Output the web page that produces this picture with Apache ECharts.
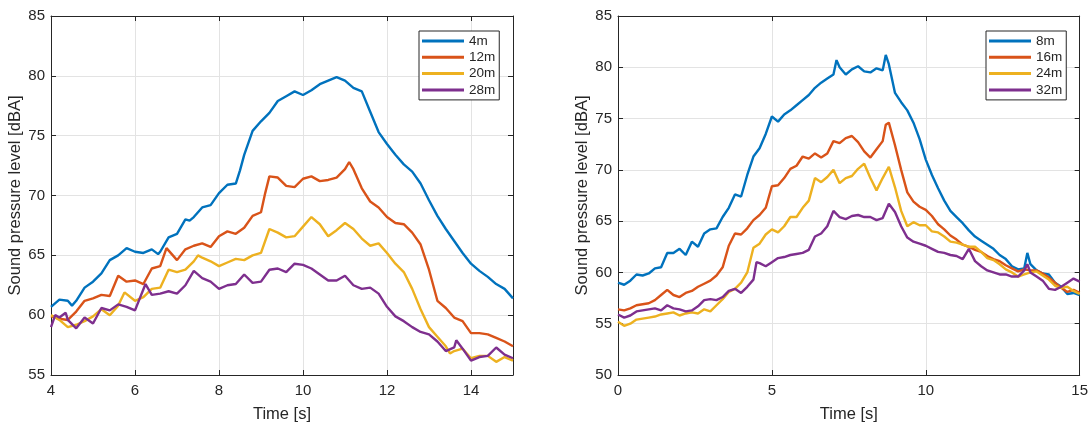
<!DOCTYPE html>
<html>
<head>
<meta charset="utf-8">
<script src="https://cdn.jsdelivr.net/npm/echarts@6/dist/echarts.min.js"></script>
<style>
  html, body { margin: 0; padding: 0; background: #ffffff; }
  #chart { width: 1091px; height: 428px; }
</style>
</head>
<body>
<div id="chart"></div>
<script>
// Sound pressure level over time, measured at different distances.
// Each series is a list of [time (s), level (dBA)] pairs.

// Left panel: 4 m, 12 m, 20 m, 28 m
const legendLeft = ['4m', '12m', '20m', '28m'];
const spl4m = [
  [4.0,60.7],[4.2,61.3],[4.4,61.2],[4.5,60.8],[4.6,61.2],[4.8,62.3],[5.0,62.8],[5.2,63.5],[5.4,64.6],[5.6,65.0],
  [5.8,65.6],[6.0,65.3],[6.2,65.2],[6.4,65.5],[6.55,65.1],[6.6,65.3],[6.8,66.5],[7.0,66.8],[7.2,68.0],[7.3,67.9],
  [7.4,68.2],[7.6,69.0],[7.8,69.2],[8.0,70.2],[8.2,70.9],[8.4,71.0],[8.5,72.1],[8.6,73.4],[8.8,75.4],[9.0,76.2],
  [9.2,76.9],[9.4,77.9],[9.6,78.3],[9.8,78.7],[10.0,78.4],[10.2,78.8],[10.4,79.3],[10.6,79.6],[10.8,79.9],[11.0,79.6],
  [11.2,79.0],[11.4,78.7],[11.6,77.0],[11.8,75.3],[12.0,74.3],[12.2,73.4],[12.4,72.6],[12.6,72.0],[12.8,71.0],[13.0,69.6],
  [13.2,68.3],[13.4,67.2],[13.6,66.2],[13.8,65.2],[14.0,64.3],[14.2,63.7],[14.4,63.2],[14.6,62.6],[14.8,62.2],[15.0,61.4]
];
const spl12m = [
  [4.0,59.9],[4.2,59.7],[4.4,59.6],[4.6,60.3],[4.8,61.2],[5.0,61.4],[5.2,61.7],[5.4,61.6],[5.6,63.3],[5.8,62.8],
  [6.0,62.9],[6.2,62.6],[6.4,63.9],[6.6,64.1],[6.75,65.6],[7.0,64.6],[7.2,65.5],[7.4,65.8],[7.6,66.0],[7.8,65.7],
  [8.0,66.6],[8.2,67.0],[8.4,66.8],[8.6,67.3],[8.8,68.3],[9.0,68.6],[9.1,70.2],[9.2,71.6],[9.4,71.5],[9.6,70.8],
  [9.8,70.7],[10.0,71.4],[10.2,71.6],[10.4,71.2],[10.6,71.3],[10.8,71.5],[11.0,72.2],[11.1,72.8],[11.2,72.2],[11.4,70.6],
  [11.6,69.5],[11.8,69.0],[12.0,68.2],[12.2,67.7],[12.4,67.6],[12.6,66.9],[12.8,65.9],[13.0,63.8],[13.2,61.2],[13.4,60.6],
  [13.6,59.8],[13.8,59.5],[14.0,58.5],[14.2,58.5],[14.4,58.4],[14.6,58.1],[14.8,57.8],[15.0,57.4]
];
const spl20m = [
  [4.0,60.0],[4.2,59.6],[4.4,59.0],[4.6,59.2],[4.8,59.5],[5.0,59.9],[5.2,60.5],[5.4,60.0],[5.6,60.8],[5.75,61.9],
  [6.0,61.2],[6.2,61.5],[6.4,62.2],[6.6,62.3],[6.8,63.8],[7.0,63.6],[7.2,63.8],[7.4,64.5],[7.5,65.0],[7.6,64.8],
  [7.8,64.5],[8.0,64.1],[8.2,64.4],[8.4,64.7],[8.6,64.6],[8.8,65.0],[9.0,65.2],[9.2,67.2],[9.4,66.9],[9.6,66.5],
  [9.8,66.6],[10.0,67.4],[10.2,68.2],[10.4,67.6],[10.6,66.6],[10.8,67.1],[11.0,67.7],[11.2,67.2],[11.4,66.4],[11.6,65.8],
  [11.8,66.0],[12.0,65.2],[12.2,64.3],[12.4,63.6],[12.6,62.2],[12.8,60.5],[13.0,59.0],[13.2,58.2],[13.4,57.4],[13.5,56.8],
  [13.6,57.0],[13.8,57.2],[14.0,56.4],[14.2,56.6],[14.4,56.6],[14.6,56.1],[14.8,56.5],[15.0,56.2]
];
const spl28m = [
  [4.0,59.0],[4.1,60.0],[4.2,59.8],[4.35,60.2],[4.4,59.6],[4.6,58.9],[4.8,59.8],[5.0,59.3],[5.2,60.6],[5.4,60.4],
  [5.6,60.9],[5.8,60.7],[6.0,60.4],[6.25,62.6],[6.4,61.7],[6.6,61.8],[6.8,62.0],[7.0,61.8],[7.2,62.5],[7.4,63.7],
  [7.6,63.1],[7.8,62.8],[8.0,62.2],[8.2,62.5],[8.4,62.6],[8.6,63.4],[8.8,62.7],[9.0,62.8],[9.2,63.8],[9.4,63.9],
  [9.6,63.6],[9.8,64.3],[10.0,64.2],[10.2,63.9],[10.4,63.4],[10.6,62.9],[10.8,62.9],[11.0,63.3],[11.2,62.5],[11.4,62.2],
  [11.6,62.3],[11.8,61.8],[12.0,60.7],[12.2,59.9],[12.4,59.5],[12.6,59.0],[12.8,58.6],[13.0,58.4],[13.2,57.8],[13.4,57.0],
  [13.6,57.3],[13.65,57.9],[13.8,57.2],[14.0,56.2],[14.2,56.5],[14.4,56.6],[14.6,57.3],[14.8,56.7],[15.0,56.4]
];

// Right panel: 8 m, 16 m, 24 m, 32 m
const legendRight = ['8m', '16m', '24m', '32m'];
const spl8m = [
  [0.0,59.0],[0.2,58.8],[0.4,59.2],[0.6,59.8],[0.8,59.7],[1.0,59.9],[1.2,60.4],[1.4,60.5],[1.6,61.9],[1.8,61.9],
  [2.0,62.3],[2.2,61.7],[2.4,63.0],[2.6,62.5],[2.8,63.8],[3.0,64.2],[3.2,64.3],[3.4,65.4],[3.6,66.3],[3.8,67.6],
  [4.0,67.4],[4.2,69.5],[4.4,71.3],[4.6,72.1],[4.8,73.5],[5.0,75.2],[5.2,74.7],[5.4,75.4],[5.6,75.8],[5.8,76.3],
  [6.0,76.8],[6.2,77.3],[6.4,78.0],[6.6,78.5],[6.8,78.9],[7.0,79.3],[7.1,80.7],[7.2,80.0],[7.4,79.3],[7.6,79.8],
  [7.8,80.1],[8.0,79.6],[8.2,79.5],[8.4,79.9],[8.6,79.7],[8.7,81.2],[8.8,80.3],[9.0,77.5],[9.2,76.6],[9.4,75.8],
  [9.6,74.6],[9.8,73.0],[10.0,71.0],[10.2,69.5],[10.4,68.2],[10.6,67.0],[10.8,66.0],[11.0,65.4],[11.2,64.8],[11.4,64.1],
  [11.6,63.5],[11.8,63.1],[12.0,62.7],[12.2,62.3],[12.4,61.7],[12.6,61.3],[12.8,60.6],[13.0,60.3],[13.2,60.4],[13.3,61.9],
  [13.4,60.8],[13.6,60.2],[13.8,59.9],[14.0,59.8],[14.2,59.0],[14.4,58.6],[14.6,57.9],[14.8,58.0],[15.0,57.8]
];
const spl16m = [
  [0.0,56.4],[0.2,56.3],[0.4,56.5],[0.6,56.8],[0.8,56.9],[1.0,57.0],[1.2,57.3],[1.4,57.8],[1.6,58.3],[1.8,57.8],
  [2.0,57.6],[2.2,58.0],[2.4,58.2],[2.6,58.6],[2.8,58.9],[3.0,59.2],[3.2,59.7],[3.4,60.5],[3.6,62.6],[3.8,63.8],
  [4.0,63.7],[4.2,64.3],[4.4,65.1],[4.6,65.6],[4.8,66.3],[5.0,68.4],[5.2,68.5],[5.4,69.2],[5.6,70.1],[5.8,70.4],
  [6.0,71.3],[6.2,71.1],[6.4,71.6],[6.6,71.2],[6.8,71.6],[7.0,72.8],[7.2,72.6],[7.4,73.1],[7.6,73.3],[7.8,72.7],
  [8.0,71.8],[8.2,71.2],[8.4,72.0],[8.6,72.8],[8.7,74.4],[8.8,74.6],[9.0,72.4],[9.2,70.0],[9.4,67.8],[9.6,66.9],
  [9.8,66.4],[10.0,66.1],[10.2,65.5],[10.4,64.7],[10.6,64.2],[10.8,63.6],[11.0,63.2],[11.2,62.7],[11.4,62.5],[11.6,62.2],
  [11.8,62.0],[12.0,61.6],[12.2,61.3],[12.4,61.1],[12.6,60.7],[12.8,60.4],[13.0,60.1],[13.2,60.3],[13.4,60.2],[13.6,60.2],
  [13.8,59.9],[14.0,59.5],[14.2,59.0],[14.4,58.5],[14.6,58.1],[14.8,58.3],[15.0,58.0]
];
const spl24m = [
  [0.0,55.2],[0.2,54.8],[0.4,55.0],[0.6,55.4],[0.8,55.5],[1.0,55.6],[1.2,55.7],[1.4,55.9],[1.6,56.0],[1.8,56.1],
  [2.0,55.8],[2.2,56.0],[2.4,56.1],[2.6,56.0],[2.8,56.4],[3.0,56.2],[3.2,56.8],[3.4,57.4],[3.6,58.1],[3.8,58.4],
  [4.0,59.0],[4.2,60.0],[4.4,62.4],[4.6,62.8],[4.8,63.7],[5.0,64.2],[5.2,63.9],[5.4,64.5],[5.6,65.4],[5.8,65.4],
  [6.0,66.3],[6.2,67.0],[6.4,69.2],[6.6,68.8],[6.8,69.3],[7.0,70.0],[7.2,68.7],[7.4,69.2],[7.6,69.4],[7.8,70.1],
  [8.0,70.6],[8.2,69.2],[8.4,68.0],[8.6,69.2],[8.8,70.3],[9.0,68.3],[9.2,66.0],[9.4,64.5],[9.6,64.9],[9.8,64.6],
  [10.0,64.6],[10.2,64.0],[10.4,63.9],[10.6,63.5],[10.8,63.0],[11.0,62.9],[11.2,62.7],[11.4,62.5],[11.6,62.5],[11.8,62.0],
  [12.0,61.4],[12.2,61.2],[12.4,60.8],[12.6,60.3],[12.8,60.0],[13.0,59.6],[13.2,59.8],[13.4,60.0],[13.6,60.1],[13.8,59.7],
  [14.0,59.3],[14.2,58.7],[14.4,58.5],[14.6,58.6],[14.8,58.2],[15.0,57.9]
];
const spl32m = [
  [0.0,55.9],[0.2,55.6],[0.4,55.8],[0.6,56.2],[0.8,56.3],[1.0,56.4],[1.2,56.5],[1.4,56.3],[1.6,56.8],[1.8,56.5],
  [2.0,56.4],[2.2,56.2],[2.4,56.3],[2.6,56.7],[2.8,57.3],[3.0,57.4],[3.2,57.3],[3.4,57.6],[3.6,58.2],[3.8,58.4],
  [4.0,58.0],[4.2,58.6],[4.4,59.3],[4.5,61.0],[4.6,60.9],[4.8,60.6],[5.0,61.0],[5.2,61.4],[5.4,61.5],[5.6,61.7],
  [5.8,61.8],[6.0,61.9],[6.2,62.2],[6.4,63.5],[6.6,63.8],[6.8,64.5],[7.0,66.0],[7.2,65.4],[7.4,65.2],[7.6,65.5],
  [7.8,65.6],[8.0,65.4],[8.2,65.4],[8.4,65.1],[8.6,65.3],[8.8,66.7],[9.0,65.9],[9.2,64.5],[9.4,63.4],[9.6,63.0],
  [9.8,62.8],[10.0,62.6],[10.2,62.3],[10.4,62.0],[10.6,61.9],[10.8,61.7],[11.0,61.6],[11.2,61.3],[11.4,62.3],[11.6,61.1],
  [11.8,60.6],[12.0,60.2],[12.2,60.0],[12.4,59.8],[12.6,59.8],[12.8,59.6],[13.0,59.6],[13.2,60.2],[13.3,60.8],[13.4,60.0],
  [13.6,59.6],[13.8,59.2],[14.0,58.4],[14.2,58.3],[14.4,58.6],[14.6,59.0],[14.8,59.4],[15.0,59.1]
];

const colors = ['#0072BD', '#D95319', '#EDB120', '#7E2F8E'];
const axisColor = '#262626';
const gridColor = '#e3e3e3';
const font = '"Liberation Sans", Arial, Helvetica, sans-serif';

function xAxes(gridIndex, min, max, interval, hideMax) {
  return [
    {
      type: 'value', gridIndex, min, max, interval, position: 'bottom',
      name: 'Time [s]', nameLocation: 'middle', nameGap: 31,
      nameTextStyle: { color: axisColor, fontSize: 16.5, fontFamily: font },
      axisLine: { show: true, onZero: false, lineStyle: { color: axisColor, width: 1 } },
      axisTick: { show: true, inside: true, length: 5, lineStyle: { color: axisColor } },
      axisLabel: { color: axisColor, fontSize: 15, fontFamily: font, margin: 8, showMaxLabel: !hideMax },
      splitLine: { show: true, lineStyle: { color: gridColor, width: 1 } }
    },
    {
      type: 'value', gridIndex, min, max, interval, position: 'top',
      axisLine: { show: true, onZero: false, lineStyle: { color: axisColor, width: 1 } },
      axisTick: { show: true, inside: true, length: 5, lineStyle: { color: axisColor } },
      axisLabel: { show: false },
      splitLine: { show: false }
    }
  ];
}

function yAxes(gridIndex, min, max, interval) {
  return [
    {
      type: 'value', gridIndex, min, max, interval, position: 'left',
      name: 'Sound pressure level [dBA]', nameLocation: 'middle', nameGap: 26, nameRotate: 90,
      nameTextStyle: { color: axisColor, fontSize: 16.5, fontFamily: font },
      axisLine: { show: true, onZero: false, lineStyle: { color: axisColor, width: 1 } },
      axisTick: { show: true, inside: true, length: 5, lineStyle: { color: axisColor } },
      axisLabel: { color: axisColor, fontSize: 15, fontFamily: font, margin: 6 },
      splitLine: { show: true, lineStyle: { color: gridColor, width: 1 } }
    },
    {
      type: 'value', gridIndex, min, max, interval, position: 'right',
      axisLine: { show: true, onZero: false, lineStyle: { color: axisColor, width: 1 } },
      axisTick: { show: true, inside: true, length: 5, lineStyle: { color: axisColor } },
      axisLabel: { show: false },
      splitLine: { show: false }
    }
  ];
}

function lineSeries(name, data, color, axisIndex) {
  return {
    name, type: 'line', data,
    xAxisIndex: axisIndex, yAxisIndex: axisIndex,
    showSymbol: false, symbol: 'none', smooth: false,
    lineStyle: { color, width: 2.4 },
    itemStyle: { color },
    animation: false
  };
}

function legendBox(names, left) {
  return {
    data: names, orient: 'vertical', left, top: 31,
    icon: 'rect', itemWidth: 42, itemHeight: 3, itemGap: 2.3,
    padding: [3, 4, 3, 3],
    backgroundColor: '#ffffff', borderColor: axisColor, borderWidth: 1,
    textStyle: { color: axisColor, fontSize: 13.5, fontFamily: font, lineHeight: 14 },
    selectedMode: false
  };
}

const chart = echarts.init(document.getElementById('chart'), null, { renderer: 'canvas' });
chart.setOption({
  animation: false,
  backgroundColor: '#ffffff',
  grid: [
    { left: 51, top: 16, width: 462, height: 365 },
    { left: 618, top: 16, width: 462, height: 365 }
  ],
  xAxis: [...xAxes(0, 4, 15, 2, true), ...xAxes(1, 0, 15, 5, false)],
  yAxis: [...yAxes(0, 55, 85, 5), ...yAxes(1, 50, 85, 5)],
  legend: [legendBox(legendLeft, 419), legendBox(legendRight, 986)],
  series: [
    lineSeries('4m', spl4m, colors[0], 0),
    lineSeries('12m', spl12m, colors[1], 0),
    lineSeries('20m', spl20m, colors[2], 0),
    lineSeries('28m', spl28m, colors[3], 0),
    lineSeries('8m', spl8m, colors[0], 2),
    lineSeries('16m', spl16m, colors[1], 2),
    lineSeries('24m', spl24m, colors[2], 2),
    lineSeries('32m', spl32m, colors[3], 2)
  ]
});
</script>
</body>
</html>
